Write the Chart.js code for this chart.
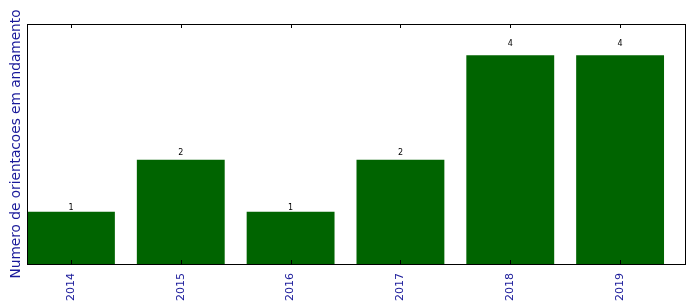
<!DOCTYPE html>
<html>
<head>
<meta charset="utf-8">
<script src="https://cdn.jsdelivr.net/npm/chart.js@4"></script>
<style>
html,body{margin:0;padding:0;background:#fff}
#wrap{width:696px;height:308px}
</style>
</head>
<body>
<div id="wrap"><canvas id="bars" width="696" height="308"></canvas></div>
<script>
// data
const years = ['2014','2015','2016','2017','2018','2019'];
const counts = [1,2,1,2,4,4];
const yMax = 4.6;

const points = counts.map((v,i)=>({x:i,y:v}));
const blue = '#1a1a9a';

// frame, inward x ticks and the value labels over each bar
const extras = {
  id:'extras',
  afterDatasetsDraw(chart){
    const {ctx, chartArea:a, scales:{x,y}} = chart;
    ctx.save();
    ctx.strokeStyle = '#000';
    ctx.lineWidth = 1;
    years.forEach((_,i)=>{
      const px = Math.round(x.getPixelForValue(i))+0.5;
      ctx.beginPath();
      ctx.moveTo(px,a.bottom); ctx.lineTo(px,a.bottom-4);
      ctx.moveTo(px,a.top); ctx.lineTo(px,a.top+4);
      ctx.stroke();
    });
    ctx.strokeRect(Math.round(a.left)+0.5, Math.round(a.top)+0.5, Math.round(a.right-a.left)-1, Math.round(a.bottom-a.top));
    ctx.fillStyle = '#000';
    ctx.font = '8px "DejaVu Sans"';
    ctx.textAlign = 'center';
    ctx.textBaseline = 'alphabetic';
    counts.forEach((v,i)=>{
      ctx.fillText(String(v), x.getPixelForValue(i), y.getPixelForValue(v*1.05)+1);
    });
    ctx.restore();
  }
};

new Chart(document.getElementById('bars').getContext('2d'),{
  type:'bar',
  data:{datasets:[{data:points,backgroundColor:'#006400',borderWidth:0,barPercentage:0.8,categoryPercentage:1}]},
  options:{
    responsive:false,animation:false,
    layout:{padding:{top:24,right:10,left:8,bottom:0}},
    plugins:{legend:{display:false},tooltip:{enabled:false}},
    scales:{
      x:{type:'linear',min:-0.4,max:5.6,offset:false,
        grid:{display:false,offset:false},border:{display:false},
        afterBuildTicks(s){s.ticks = years.map((_,i)=>({value:i}));},
        afterFit(s){s.height = 44;},
        ticks:{autoSkip:false,maxRotation:90,minRotation:90,padding:1,color:blue,
          font:{family:'DejaVu Sans',size:11},
          callback:(v)=>years[v]}},
      y:{min:0,max:yMax,
        grid:{display:false},border:{display:false},
        ticks:{display:false},
        afterFit(s){s.width = 19;},
        title:{display:true,text:'Numero de orientacoes em andamento',color:blue,
          font:{family:'DejaVu Sans',size:13.7},padding:0}}
    }
  },
  plugins:[extras]
});
</script>
</body>
</html>
